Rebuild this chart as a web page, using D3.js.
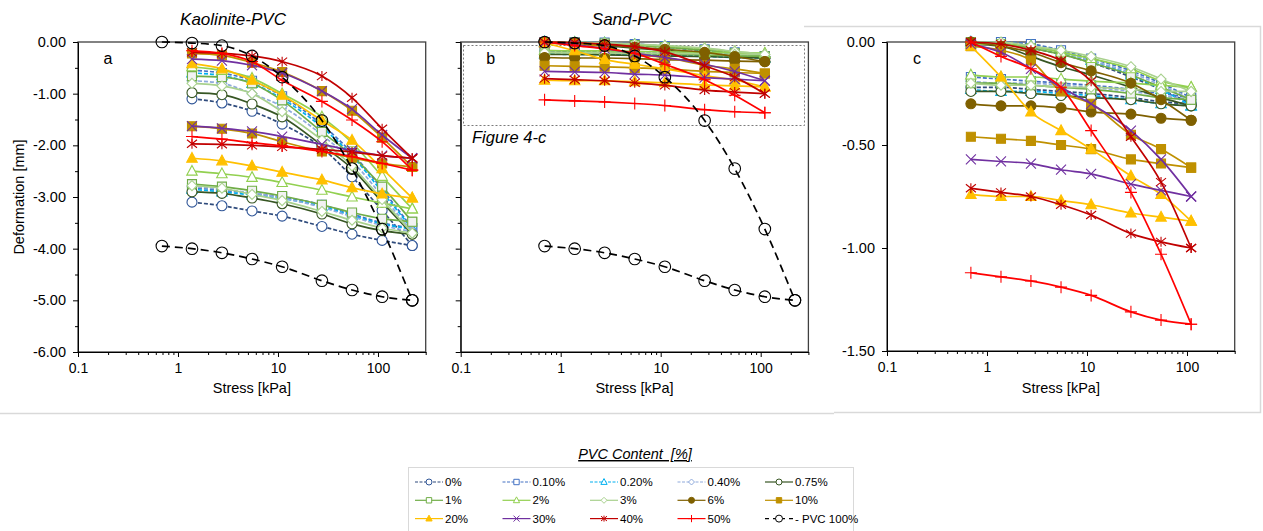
<!DOCTYPE html>
<html>
<head>
<meta charset="utf-8">
<script src="https://cdn.jsdelivr.net/npm/d3@7"></script>
<style>
body { margin: 0; background: #fff; }
svg { font-family: "Liberation Sans", Arial, sans-serif; }
</style>
</head>
<body>
<svg width="1263" height="531"></svg>
<script>
// series names (legend order)
var labels = ["0%", "0.10%", "0.20%", "0.40%", "0.75%", "1%", "2%", "3%", "6%", "10%", "20%", "30%", "40%", "50%"];

// stress steps [kPa]
var stressKao = [1.38, 2.75, 5.5, 11, 27.5, 55, 110, 220];
var stressSand = [0.69, 1.38, 2.75, 5.5, 11, 27.5, 55, 110];
var stressPvc = [0.69, 1.38, 2.75, 5.5, 11, 27.5, 55, 110, 220];

// Kaolinite-PVC, loading and unloading deformation [mm]
var kaoLoad = [
    [-1.10, -1.18, -1.34, -1.59, -2.05, -2.61, -3.26, -3.94],
    [-0.55, -0.60, -0.75, -1.05, -1.60, -2.15, -2.85, -3.60],
    [-0.60, -0.65, -0.80, -1.10, -1.65, -2.20, -2.90, -3.62],
    [-0.75, -0.80, -1.00, -1.25, -1.80, -2.30, -2.98, -3.67],
    [-0.98, -1.02, -1.20, -1.45, -2.00, -2.45, -3.10, -3.72],
    [-0.66, -0.68, -0.80, -1.13, -1.74, -2.20, -2.80, -3.48],
    [-0.48, -0.55, -0.70, -1.00, -1.45, -1.95, -2.60, -3.23],
    [-0.80, -0.85, -1.00, -1.35, -1.90, -2.40, -3.05, -3.70],
    [],
    [-0.22, -0.26, -0.40, -0.58, -0.95, -1.33, -1.85, -2.42],
    [-0.42, -0.52, -0.74, -1.03, -1.52, -1.90, -2.45, -3.02],
    [-0.33, -0.36, -0.45, -0.60, -0.95, -1.30, -1.80, -2.25],
    [-0.20, -0.22, -0.27, -0.38, -0.66, -1.08, -1.68, -2.25],
    [-0.17, -0.22, -0.38, -0.74, -1.15, -1.51, -1.93, -2.48]
];
var kaoUnload = [
    [-3.10, -3.17, -3.27, -3.37, -3.57, -3.72, -3.84, -3.94],
    [-2.82, -2.87, -2.93, -3.00, -3.15, -3.33, -3.50, -3.60],
    [-2.85, -2.90, -2.96, -3.03, -3.18, -3.36, -3.52, -3.62],
    [-2.80, -2.85, -2.92, -3.02, -3.20, -3.38, -3.55, -3.67],
    [-2.90, -2.93, -3.02, -3.13, -3.33, -3.52, -3.65, -3.72],
    [-2.75, -2.80, -2.88, -2.98, -3.15, -3.30, -3.42, -3.48],
    [-2.50, -2.55, -2.62, -2.72, -2.87, -3.00, -3.12, -3.23],
    [-2.78, -2.83, -2.95, -3.07, -3.28, -3.45, -3.60, -3.70],
    [],
    [-1.63, -1.68, -1.77, -1.93, -2.12, -2.24, -2.35, -2.42],
    [-2.25, -2.30, -2.40, -2.52, -2.67, -2.82, -2.94, -3.02],
    [-1.63, -1.67, -1.73, -1.83, -1.98, -2.10, -2.20, -2.25],
    [-1.97, -1.98, -2.00, -2.03, -2.08, -2.13, -2.20, -2.25],
    [-1.83, -1.88, -1.95, -2.01, -2.12, -2.22, -2.35, -2.48]
];

// Sand-PVC, loading and unloading deformation [mm]
var sandLoad = [
    [0.00, -0.01, -0.03, -0.06, -0.10, -0.17, -0.23, -0.30],
    [0.00, 0.00, -0.01, -0.04, -0.08, -0.14, -0.20, -0.27],
    [0.00, -0.01, -0.02, -0.05, -0.09, -0.16, -0.23, -0.31],
    [0.00, -0.01, -0.02, -0.05, -0.09, -0.15, -0.21, -0.28],
    [-0.01, -0.02, -0.07, -0.12, -0.16, -0.22, -0.27, -0.31],
    [0.00, -0.01, -0.03, -0.06, -0.10, -0.16, -0.22, -0.28],
    [-0.01, -0.01, -0.02, -0.05, -0.08, -0.13, -0.19, -0.22],
    [0.00, 0.00, -0.02, -0.04, -0.07, -0.12, -0.18, -0.24],
    [0.00, -0.02, -0.05, -0.10, -0.14, -0.20, -0.28, -0.38],
    [-0.02, -0.04, -0.09, -0.24, -0.30, -0.45, -0.52, -0.61],
    [-0.02, -0.17, -0.34, -0.43, -0.52, -0.65, -0.74, -0.87],
    [-0.01, -0.05, -0.13, -0.22, -0.30, -0.43, -0.57, -0.75],
    [0.00, -0.01, -0.04, -0.09, -0.19, -0.46, -0.68, -1.00],
    [0.00, -0.07, -0.13, -0.22, -0.43, -0.73, -1.03, -1.37]
];
var sandUnload = [
    [-0.22, -0.22, -0.23, -0.24, -0.25, -0.27, -0.29, -0.30],
    [-0.17, -0.18, -0.19, -0.20, -0.21, -0.23, -0.25, -0.27],
    [-0.23, -0.24, -0.24, -0.25, -0.26, -0.28, -0.30, -0.31],
    [-0.19, -0.20, -0.20, -0.21, -0.22, -0.24, -0.26, -0.28],
    [-0.24, -0.24, -0.25, -0.26, -0.27, -0.28, -0.30, -0.31],
    [-0.20, -0.20, -0.21, -0.22, -0.23, -0.25, -0.27, -0.28],
    [-0.16, -0.17, -0.17, -0.18, -0.19, -0.20, -0.21, -0.22],
    [-0.20, -0.21, -0.21, -0.22, -0.22, -0.23, -0.24, -0.24],
    [-0.30, -0.31, -0.31, -0.32, -0.34, -0.35, -0.37, -0.38],
    [-0.46, -0.47, -0.48, -0.50, -0.52, -0.57, -0.59, -0.61],
    [-0.74, -0.75, -0.75, -0.77, -0.79, -0.83, -0.85, -0.87],
    [-0.57, -0.58, -0.59, -0.62, -0.64, -0.69, -0.72, -0.75],
    [-0.71, -0.73, -0.75, -0.79, -0.84, -0.93, -0.97, -1.00],
    [-1.12, -1.14, -1.16, -1.19, -1.23, -1.31, -1.35, -1.37]
];

// pure PVC (same test in panels a and b)
var pvcLoad = [0.00, -0.02, -0.07, -0.27, -0.68, -1.52, -2.45, -3.62, -5.00];
var pvcUnload = [-3.95, -4.00, -4.08, -4.20, -4.35, -4.62, -4.80, -4.93, -5.00];

// styles
var lineColors = ["#2f4b7c", "#4472c4", "#00b0f0", "#8faadc", "#375623", "#70ad47", "#92d050", "#a9d18e",
                  "#7f6000", "#bf9000", "#ffc000", "#7030a0", "#c00000", "#ff0000"];
var markColors = ["#2f5597", "#4472c4", "#00b0f0", "#8faadc", "#375623", "#70ad47", "#92d050", "#a9d18e",
                  "#7f6000", "#bf9000", "#ffc000", "#7030a0", "#c00000", "#ff0000"];
var markers = ["circle", "square", "triangle", "diamond", "circle", "square", "triangle", "diamond",
               "circle", "square", "triangle", "x", "star", "plus"];
var fills = ["#fff", "#fff", "#fff", "#fff", "#fff", "#f2f2f2", "#fff", "#fff",
             "#7f6000", "#bf9000", "#ffc000", "none", "none", "none"];
var dashed = [true, true, true, true, false, false, false, false, false, false, false, false, false, false];

function markerPath(type, s) {
    if (type == "circle") return "M" + s + ",0A" + s + "," + s + " 0 1,1 " + (-s) + ",0A" + s + "," + s + " 0 1,1 " + s + ",0Z";
    if (type == "square") { var q = s * 0.9; return "M" + (-q) + "," + (-q) + "H" + q + "V" + q + "H" + (-q) + "Z"; }
    if (type == "triangle") return "M0," + (-s * 1.15) + "L" + (s * 1.05) + "," + (s * 0.8) + "L" + (-s * 1.05) + "," + (s * 0.8) + "Z";
    if (type == "diamond") return "M0," + (-s) + "L" + s + ",0L0," + s + "L" + (-s) + ",0Z";
    if (type == "x") return "M" + (-s) + "," + (-s) + "L" + s + "," + s + "M" + (-s) + "," + s + "L" + s + "," + (-s);
    if (type == "star") return "M" + (-s) + "," + (-s * 0.8) + "L" + s + "," + (s * 0.8) + "M" + (-s) + "," + (s * 0.8) + "L" + s + "," + (-s * 0.8) + "M0," + (-s) + "V" + s;
    if (type == "plus") return "M" + (-s * 1.2) + ",0H" + (s * 1.2) + "M0," + (-s * 1.2) + "V" + (s * 1.2);
}

var svg = d3.select("svg");

// chart frames (light gray outlines from the source document)
svg.append("path")
    .attr("d", "M0,413.5H834")
    .attr("stroke", "#d9d9d9").attr("stroke-width", 1.5).attr("fill", "none");
svg.append("path")
    .attr("d", "M804,26.5H1260.5V412.5H834")
    .attr("stroke", "#d9d9d9").attr("stroke-width", 1.5).attr("fill", "none");

var panels = [
    {left: 78, right: 425.7, top: 42, bottom: 352, ymin: -6, majors: d3.range(-6, 0.5, 1), minors: d3.range(-5.5, 0, 1), labels: true,
     letter: "a", title: "Kaolinite-PVC", stress: stressKao, load: kaoLoad, unload: kaoUnload, pvc: true},
    {left: 460.7, right: 808.4, top: 42, bottom: 352, ymin: -6, majors: d3.range(-6, 0.5, 1), minors: d3.range(-5.5, 0, 1), labels: false,
     letter: "b", title: "Sand-PVC", stress: stressSand, load: sandLoad, unload: sandUnload, pvc: true},
    {left: 887, right: 1234.7, top: 42, bottom: 351, ymin: -1.5, majors: [-1.5, -1, -0.5, 0], minors: [], labels: true,
     letter: "c", title: null, stress: stressSand, load: sandLoad, unload: sandUnload, pvc: false}
];

var xMajors = [0.1, 1, 10, 100];
var xMinors = [];
[0.1, 1, 10, 100].forEach(function(p) {
    d3.range(2, 10).forEach(function(k) {
        if (p * k <= 300) xMinors.push(p * k);
    });
});

panels.forEach(function(p) {
    var x = d3.scaleLog().domain([0.1, 300]).range([p.left, p.right]);
    var y = d3.scaleLinear().domain([p.ymin, 0]).range([p.bottom, p.top]);
    var g = svg.append("g");

    // frame
    g.append("rect")
        .attr("x", p.left).attr("y", p.top)
        .attr("width", p.right - p.left).attr("height", p.bottom - p.top)
        .attr("fill", "none").attr("stroke", "#404040").attr("stroke-width", 1.3);

    // x axis
    g.append("g")
        .attr("transform", "translate(0," + p.bottom + ")")
        .call(d3.axisBottom(x).tickValues(xMinors).tickSize(3).tickFormat(""))
        .call(function(a) { a.select(".domain").remove(); });
    var xa = g.append("g")
        .attr("transform", "translate(0," + p.bottom + ")")
        .call(d3.axisBottom(x).tickValues(xMajors).tickSize(5).tickSizeOuter(0).tickPadding(6)
            .tickFormat(function(d) { return d < 1 ? "0.1" : String(d); }));
    xa.selectAll("text").attr("font-size", "14px").attr("fill", "#000").attr("font-family", "Liberation Sans, Arial, sans-serif");
    xa.select(".domain").attr("stroke", "#000");

    // y axis
    if (p.minors.length) {
        g.append("g")
            .attr("transform", "translate(" + p.left + ",0)")
            .call(d3.axisLeft(y).tickValues(p.minors).tickSize(3).tickFormat(""))
            .call(function(a) { a.select(".domain").remove(); });
    }
    var ya = g.append("g")
        .attr("transform", "translate(" + p.left + ",0)")
        .call(d3.axisLeft(y).tickValues(p.majors).tickSize(5).tickSizeOuter(0).tickPadding(7)
            .tickFormat(function(d) { return p.labels ? (Math.abs(d) < 1e-9 ? "0.00" : d.toFixed(2)) : ""; }));
    ya.selectAll("text").attr("font-size", "14.5px").attr("fill", "#000").attr("font-family", "Liberation Sans, Arial, sans-serif");
    ya.select(".domain").attr("stroke", "#000");

    g.append("text")
        .attr("x", (p.left + p.right) / 2).attr("y", 393)
        .attr("text-anchor", "middle").attr("font-size", "14.5px")
        .text("Stress [kPa]");

    if (p.title) {
        g.append("text")
            .attr("x", p.letter == "a" ? 233 : 632).attr("y", 25)
            .attr("text-anchor", "middle").attr("font-size", "17px").attr("font-style", "italic")
            .text(p.title);
    }
    g.append("text")
        .attr("x", p.left + 30).attr("y", 64)
        .attr("text-anchor", "middle").attr("font-size", "16px")
        .text(p.letter);

    if (p.letter == "b") {
        g.append("rect")
            .attr("x", 463.5).attr("y", 45.5).attr("width", 341).attr("height", 80)
            .attr("fill", "none").attr("stroke", "#595959").attr("stroke-width", 0.8).attr("stroke-dasharray", "2,2");
        g.append("text")
            .attr("x", 472).attr("y", 143)
            .attr("font-size", "16.5px").attr("font-style", "italic")
            .text("Figure 4-c");
    }

    var line = d3.line()
        .x(function(d) { return x(d[0]); })
        .y(function(d) { return y(d[1]); })
        .curve(d3.curveMonotoneX);

    function drawSeries(pts, col, mcol, mk, fill, dash, size, width) {
        g.append("path")
            .attr("d", line(pts))
            .attr("fill", "none").attr("stroke", col).attr("stroke-width", width)
            .attr("stroke-dasharray", dash);
        g.selectAll(null).data(pts).enter().append("path")
            .attr("transform", function(d) { return "translate(" + x(d[0]) + "," + y(d[1]) + ")"; })
            .attr("d", markerPath(mk, size))
            .attr("fill", fill).attr("stroke", mcol).attr("stroke-width", 1.1);
    }

    labels.forEach(function(lab, i) {
        [p.load[i], p.unload[i]].forEach(function(vals) {
            if (!vals.length) return;
            var pts = vals.map(function(v, j) { return [p.stress[j], v]; });
            drawSeries(pts, lineColors[i], markColors[i], markers[i], fills[i], dashed[i] ? "4,2" : null, 5, 1.7);
        });
    });

    if (p.pvc) {
        [pvcLoad, pvcUnload].forEach(function(vals) {
            var pts = vals.map(function(v, j) { return [stressPvc[j], v]; });
            drawSeries(pts, "#000", "#000", "circle", "none", "8,5", 5.8, 1.7);
        });
    }
});

// y axis title
svg.append("text")
    .attr("transform", "translate(24,197) rotate(-90)")
    .attr("text-anchor", "middle").attr("font-size", "14.5px")
    .text("Deformation [mm]");

// legend
svg.append("text")
    .attr("x", 635).attr("y", 459)
    .attr("text-anchor", "middle").attr("font-size", "14.5px").attr("font-style", "italic")
    .attr("text-decoration", "underline")
    .style("white-space", "pre")
    .text("PVC Content  [%]");

svg.append("rect")
    .attr("x", 408.5).attr("y", 467.5).attr("width", 445).attr("height", 80)
    .attr("fill", "none").attr("stroke", "#d9d9d9").attr("stroke-width", 1);

var legItems = labels.concat(["PVC 100%"]);
var leg = svg.selectAll(".leg").data(legItems).enter().append("g")
    .attr("class", "leg")
    .attr("transform", function(d, i) {
        return "translate(" + (415 + (i % 5) * 87.5) + "," + (482 + Math.floor(i / 5) * 18.3) + ")";
    });

leg.append("path")
    .attr("d", "M0,0H28")
    .attr("stroke", function(d, i) { return i < 14 ? lineColors[i] : "#000"; })
    .attr("stroke-width", 1.2)
    .attr("stroke-dasharray", function(d, i) { return i == 14 ? "4,4" : dashed[i] ? "3,1.5" : null; });

leg.append("path")
    .attr("transform", "translate(14,0)")
    .attr("d", function(d, i) { return i < 14 ? markerPath(markers[i], 3) : markerPath("circle", 3.5); })
    .attr("fill", function(d, i) { return i < 14 ? (fills[i] == "#f2f2f2" ? "#fff" : fills[i]) : "#fff"; })
    .attr("stroke", function(d, i) { return i < 14 ? markColors[i] : "#000"; })
    .attr("stroke-width", 1);

leg.append("text")
    .attr("x", 30).attr("y", 4)
    .attr("font-size", "11.5px")
    .text(function(d, i) { return i == 14 ? " - PVC 100%" : d; });
</script>
</body>
</html>
